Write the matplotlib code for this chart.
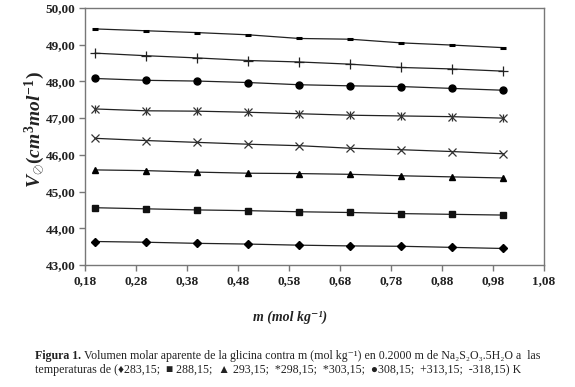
import matplotlib
matplotlib.use("Agg")
import matplotlib.pyplot as plt

# molalidad de glicina (mol/kg)
m = [0.20, 0.30, 0.40, 0.50, 0.60, 0.70, 0.80, 0.90, 1.00]

# volumen molar aparente por temperatura (K)
v_283 = [43.64, 43.62, 43.59, 43.57, 43.54, 43.52, 43.51, 43.48, 43.45]
v_288 = [44.56, 44.53, 44.50, 44.48, 44.45, 44.43, 44.40, 44.38, 44.36]
v_293 = [45.59, 45.57, 45.53, 45.50, 45.49, 45.47, 45.43, 45.40, 45.37]
v_298 = [46.45, 46.39, 46.34, 46.29, 46.25, 46.18, 46.14, 46.09, 46.03]
v_303 = [47.25, 47.20, 47.19, 47.16, 47.12, 47.08, 47.06, 47.04, 47.00]
v_308 = [48.08, 48.03, 48.01, 47.97, 47.91, 47.88, 47.86, 47.81, 47.76]
v_313 = [48.77, 48.70, 48.64, 48.57, 48.53, 48.47, 48.38, 48.34, 48.28]
v_318 = [49.43, 49.38, 49.33, 49.27, 49.17, 49.15, 49.05, 48.99, 48.92]

x_ticks = [0.18, 0.28, 0.38, 0.48, 0.58, 0.68, 0.78, 0.88, 0.98, 1.08]
y_ticks = [43, 44, 45, 46, 47, 48, 49, 50]

serif = ["Liberation Serif", "DejaVu Serif"]

fig = plt.figure(figsize=(5.75, 3.87), dpi=100)
ax = fig.add_axes([85 / 575, 1 - 265 / 387, 459 / 575, 257 / 387])

line_kw = dict(color="#222222", lw=0.9)
ax.plot(m, v_283, marker="D", ms=4.5, mfc="black", mec="black", **line_kw)
ax.plot(m, v_288, marker="s", ms=5, mfc="#111111", mec="#111111", **line_kw)
ax.plot(m, v_293, marker="^", ms=5, mfc="black", mec="black", **line_kw)
ax.plot(m, v_298, marker="x", ms=6, mew=0.9, mec="#333333", **line_kw)
ax.plot(m, v_303, marker="x", ms=6, mew=0.9, mec="#333333", **line_kw)
ax.plot(m, v_303, ls="none", marker="|", ms=6, mew=0.9, mec="#333333")
ax.plot(m, v_308, marker="o", ms=5, mfc="black", mec="black", **line_kw)
ax.plot(m, v_313, marker="+", ms=7, mew=0.9, mec="#222222", **line_kw)
ax.plot(m, v_318, marker="_", ms=4, mew=2.2, mec="black", **line_kw)

ax.set_xlim(0.18, 1.08)
ax.set_ylim(43, 50)
ax.set_xticks(x_ticks)
ax.set_yticks(y_ticks)
ax.set_xticklabels([f"{t:.2f}".replace(".", ",") for t in x_ticks])
ax.set_yticklabels([f"{t:.2f}".replace(".", ",") for t in y_ticks])
for lbl in ax.get_xticklabels() + ax.get_yticklabels():
    lbl.set_family(serif)
    lbl.set_fontweight("bold")
    lbl.set_fontsize(9.5)
    lbl.set_color("#222222")

for s in ax.spines.values():
    s.set_color("#777777")
    s.set_linewidth(1.0)
ax.tick_params(direction="out", length=4, width=1, color="#777777", pad=3)
ax.tick_params(axis="y", which="both", right=False)
ax.tick_params(axis="x", which="both", top=False)

plt.rcParams["mathtext.fontset"] = "custom"
plt.rcParams["mathtext.it"] = "Liberation Serif:italic:bold"
plt.rcParams["mathtext.rm"] = "Liberation Serif:bold"
plt.rcParams["mathtext.bf"] = "Liberation Serif:bold"

fig.text(35 / 575, 1 - 130 / 387, r"$V_{\oslash}(cm^3mol^{-1})$", rotation=90,
         ha="center", va="center", fontsize=14, color="#222222")
fig.text(290 / 575, 1 - 317 / 387, "m (mol kg\u207b\u00b9)", ha="center", va="center",
         family=serif, style="italic", fontweight="bold", fontsize=10, color="#222222")

# pie de figura
fig.canvas.draw()
r = fig.canvas.get_renderer()
t1 = fig.text(35 / 575, 1 - 356 / 387, "Figura 1.", family=serif, fontweight="bold",
              fontsize=8.6, va="center", ha="left", color="#222222")
w = t1.get_window_extent(r).width
fig.text((35 + w + 3) / 575, 1 - 356 / 387,
         "Volumen molar aparente de la glicina contra m (mol kg\u207b\u00b9) en 0.2000 m de "
         "Na\u2082S\u2082O\u2083.5H\u2082O a  las",
         family=serif, fontsize=8.6, va="center", ha="left", color="#222222")
fig.text(35 / 575, 1 - 370 / 387,
         "temperaturas de (\u2666283,15;  \u25a0 288,15;  \u25b2 293,15;  *298,15;  *303,15;  "
         "\u25cf308,15;  +313,15;  -318,15) K",
         family=serif, fontsize=8.6, va="center", ha="left", color="#222222")

fig.savefig("out.png", dpi=100)
